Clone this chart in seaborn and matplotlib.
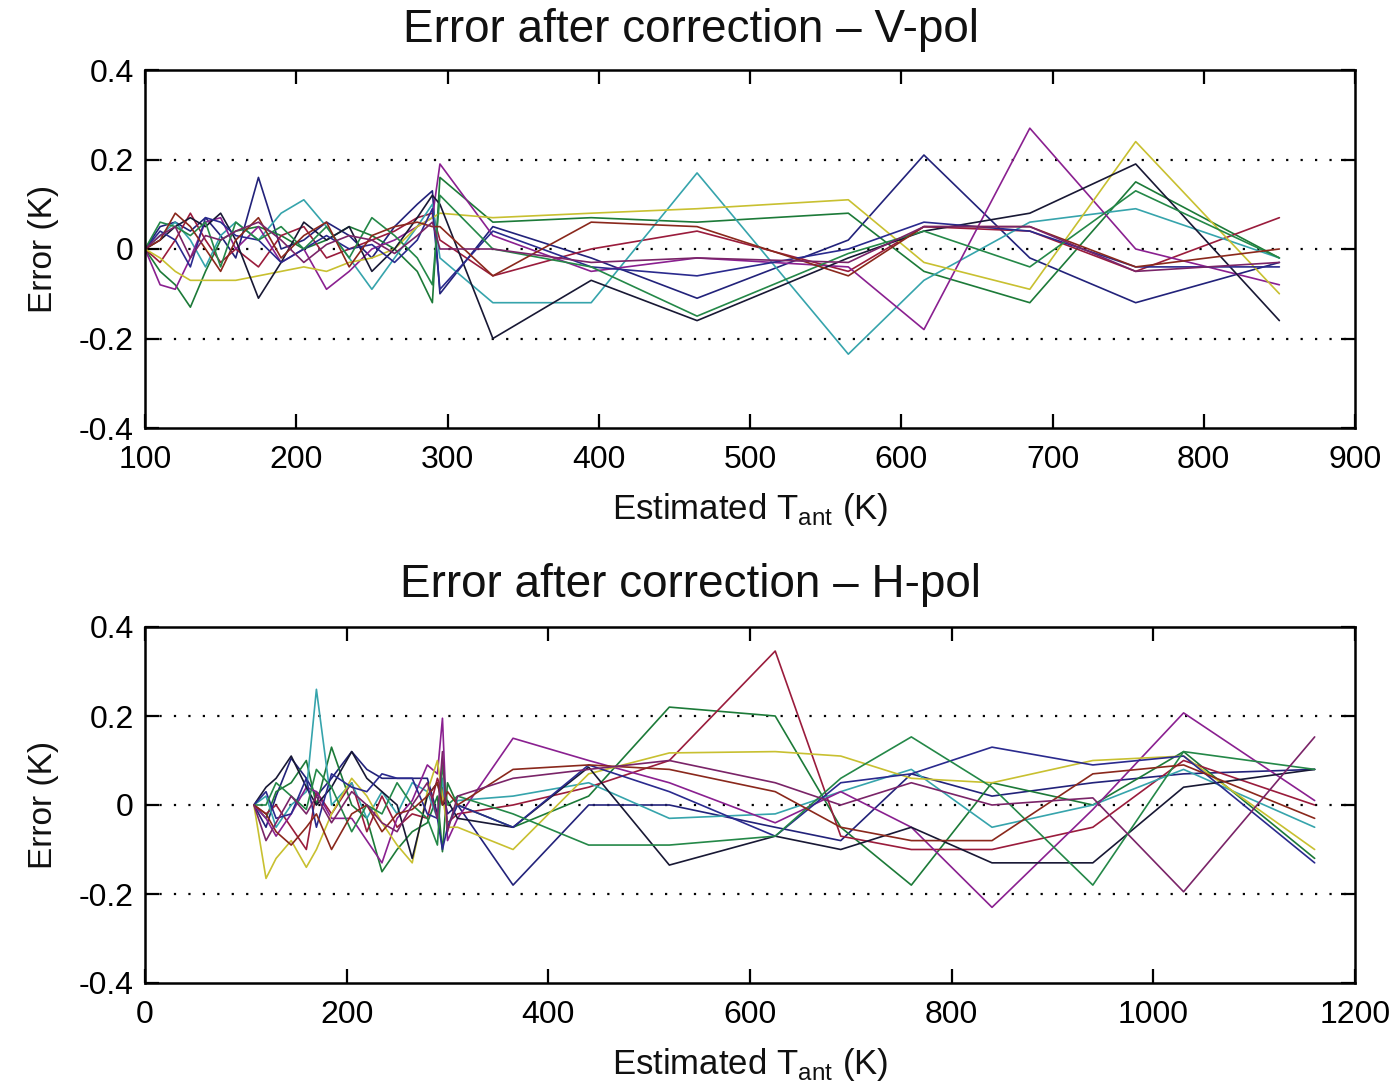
import numpy as np
import pandas as pd
import matplotlib
matplotlib.use("Agg")
import matplotlib.pyplot as plt
import seaborn as sns

# ---------------- data ----------------
# V-pol panel
x_v = [100, 110, 120, 130, 140, 150, 160, 175, 190, 205, 220, 235, 250, 265, 280, 290, 295,
       330, 395, 465, 565, 615, 685, 755, 850]
v_navy = [0, 0.05, 0.06, 0.04, 0.07, 0.03, -0.02, 0.16, 0.0, 0.02, 0.06, 0.03, -0.02, 0.05, 0.1, 0.13, -0.1,
          0.05, -0.02, -0.11, 0.02, 0.21, -0.02, -0.12, -0.03]
v_green = [0, -0.05, -0.08, -0.13, -0.05, 0.02, 0.04, 0.05, 0.03, 0.0, 0.02, 0.05, 0.03, 0.0, -0.05, -0.12, 0.16,
           0.06, 0.07, 0.06, 0.08, -0.05, -0.12, 0.15, -0.02]
v_red = [0, -0.03, 0.02, 0.08, 0.02, -0.03, 0.0, -0.04, 0.03, 0.05, -0.02, 0.0, 0.02, 0.04, 0.07, 0.08, 0.02,
         -0.06, 0.0, 0.04, -0.05, 0.05, 0.04, -0.05, 0.07]
v_cyan = [0, 0.03, 0.06, 0.02, -0.04, 0.03, 0.06, 0.02, 0.08, 0.11, 0.05, -0.02, -0.09, -0.02, 0.05, 0.1, -0.02,
          -0.12, -0.12, 0.17, -0.235, -0.07, 0.06, 0.09, -0.02]
v_magenta = [0, -0.08, -0.09, -0.02, 0.06, 0.07, 0.0, 0.05, -0.03, 0.0, -0.09, -0.05, 0.0, 0.02, 0.05, 0.07, 0.19,
             0.03, -0.05, -0.02, -0.04, -0.18, 0.27, 0.0, -0.08]
v_yellow = [0, -0.02, -0.05, -0.07, -0.07, -0.07, -0.07, -0.06, -0.05, -0.04, -0.05, -0.03, -0.02, 0.0, 0.05, 0.07, 0.08,
            0.07, 0.08, 0.09, 0.11, -0.03, -0.09, 0.24, -0.1]
v_black = [0, 0.02, 0.05, 0.07, 0.05, 0.08, 0.02, -0.11, -0.03, 0.06, 0.02, 0.05, -0.05, 0.0, 0.07, 0.12, 0.1,
           -0.2, -0.07, -0.16, -0.02, 0.04, 0.08, 0.19, -0.16]
v_navy2 = [0, 0.04, 0.02, -0.04, 0.07, 0.06, 0.03, 0.02, -0.03, 0.0, 0.03, 0.0, 0.01, -0.03, 0.02, 0.09, -0.09,
           0.04, -0.04, -0.06, 0.0, 0.06, 0.04, -0.04, -0.04]
v_green2 = [0, 0.06, 0.05, 0.03, 0.06, -0.04, 0.06, 0.02, 0.05, 0.0, 0.05, -0.02, 0.07, 0.03, -0.02, -0.08, 0.12,
            0.0, -0.04, -0.15, -0.01, 0.04, -0.04, 0.13, -0.02]
v_red2 = [0, 0.02, 0.08, 0.05, 0.0, -0.05, 0.02, 0.07, -0.02, 0.03, 0.06, -0.04, 0.03, 0.05, 0.06, 0.05, 0.05,
          -0.06, 0.06, 0.05, -0.06, 0.05, 0.05, -0.04, 0.0]
v_magenta2 = [0, 0.03, 0.05, -0.02, 0.03, 0.02, 0.04, 0.06, 0.02, -0.03, 0.01, 0.03, 0.02, -0.01, 0.03, 0.06, 0.0,
              0.0, -0.03, -0.02, -0.03, 0.05, 0.05, -0.05, -0.03]

# H-pol panel
x_h = [108, 120, 130, 145, 160, 170, 185, 205, 220, 235, 250, 265, 280, 290, 295, 300, 310,
       365, 440, 520, 625, 690, 760, 840, 940, 1030, 1160]
h_navy = [0, -0.05, 0.02, 0.105, 0.06, 0.02, 0.06, 0.12, 0.08, 0.06, 0.06, 0.06, 0.06, -0.02, 0.04, -0.02, 0.0,
          -0.18, 0.0, 0.0, -0.05, -0.08, 0.07, 0.02, 0.05, 0.07, 0.08]
h_green = [0, -0.03, 0.03, 0.05, 0.1, 0.0, 0.13, 0.0, -0.03, -0.15, -0.1, -0.06, -0.04, 0.02, -0.105, 0.05, 0.0,
           -0.05, 0.02, 0.22, 0.2, -0.05, -0.18, 0.05, 0.0, 0.12, -0.12]
h_red = [0, -0.02, 0.0, -0.05, -0.1, 0.03, -0.02, 0.05, -0.06, 0.02, -0.05, -0.02, -0.03, 0.06, 0.03, -0.04, -0.02,
         0.0, 0.04, 0.1, 0.346, -0.07, -0.1, -0.1, -0.05, 0.1, 0.0]
h_cyan = [0, 0.02, -0.05, 0.0, 0.03, 0.26, 0.0, 0.05, -0.03, 0.03, -0.02, 0.05, 0.03, -0.03, 0.06, -0.05, 0.01,
          0.02, 0.05, -0.03, -0.02, 0.03, 0.08, -0.05, 0.0, 0.08, -0.05]
h_magenta = [0, -0.03, -0.07, -0.02, 0.04, 0.03, -0.03, -0.03, -0.08, -0.13, -0.03, 0.01, 0.09, 0.07, 0.195, -0.08, -0.03,
             0.15, 0.1, 0.05, -0.04, 0.03, -0.05, -0.23, -0.01, 0.207, 0.01]
h_yellow = [0, -0.165, -0.12, -0.08, -0.14, -0.1, -0.02, 0.06, 0.02, -0.04, -0.09, -0.13, 0.03, 0.1, 0.02, -0.05, -0.05,
            -0.1, 0.07, 0.117, 0.12, 0.11, 0.06, 0.05, 0.1, 0.11, -0.1]
h_black = [0, 0.04, 0.06, 0.11, 0.04, 0.0, 0.04, 0.12, 0.06, 0.03, 0.0, -0.12, 0.02, 0.05, 0.0, 0.01, -0.03,
           -0.05, 0.085, -0.135, -0.07, -0.1, -0.05, -0.13, -0.13, 0.04, 0.08]
h_navy2 = [0, 0.03, -0.03, -0.02, 0.06, -0.05, 0.07, 0.04, 0.03, 0.07, 0.06, 0.06, -0.02, -0.03, -0.1, -0.05, 0.0,
           -0.05, 0.09, 0.03, -0.07, 0.05, 0.07, 0.13, 0.09, 0.11, -0.13]
h_green2 = [0, 0.0, 0.05, 0.02, -0.01, 0.08, 0.04, -0.06, 0.0, -0.02, 0.05, 0.0, -0.03, -0.09, 0.09, 0.0, 0.02,
            -0.02, -0.09, -0.09, -0.07, 0.06, 0.153, 0.04, -0.18, 0.12, 0.08]
h_red2 = [0, -0.02, -0.06, -0.09, -0.05, -0.02, -0.1, -0.02, 0.0, -0.06, -0.02, -0.01, 0.02, 0.05, 0.0, 0.03, 0.0,
          0.08, 0.09, 0.08, 0.03, -0.05, -0.08, -0.08, 0.07, 0.09, -0.03]
h_brown = [0, -0.08, -0.04, 0.02, -0.02, 0.02, -0.04, 0.03, 0.0, -0.04, -0.06, 0.0, 0.05, -0.03, 0.12, -0.06, 0.02,
           0.06, 0.08, 0.1, 0.05, 0.0, 0.05, 0.0, 0.016, -0.195, 0.153]

titles = ["Error after correction \u2013 V-pol", "Error after correction \u2013 H-pol"]
xlabel = "Estimated T$_{\\mathregular{ant}}$ (K)"
ylabel = "Error (K)"
xticks_v = [100, 200, 300, 400, 500, 600, 700, 800, 900]
xticks_h = [0, 200, 400, 600, 800, 1000, 1200]
yticks = [-0.4, -0.2, 0, 0.2, 0.4]
ytick_labels = ["-0.4", "-0.2", "0", "0.2", "0.4"]

colors = ["#22227a", "#1c7a38", "#9a1c3c", "#36a4ac", "#8a2090", "#c8c030",
          "#181834", "#2a2a8e", "#248848", "#8a281c", "#7a2468"]

v_series = [v_navy, v_green, v_red, v_cyan, v_magenta, v_yellow, v_black,
            v_navy2, v_green2, v_red2, v_magenta2]
h_series = [h_navy, h_green, h_red, h_cyan, h_magenta, h_yellow, h_black,
            h_navy2, h_green2, h_red2, h_brown]


def to_long(xs, series):
    rows = []
    for i, ys in enumerate(series):
        for x, y in zip(xs, ys):
            rows.append({"x": x, "y": y, "s": f"s{i}"})
    return pd.DataFrame(rows)


df_v = to_long(x_v, v_series)
df_h = to_long(x_h, h_series)

# ---------------- style ----------------
sns.set_theme(style="white")
plt.rcParams["font.family"] = ["Liberation Sans", "DejaVu Sans"]
plt.rcParams["mathtext.fontset"] = "custom"
plt.rcParams["mathtext.rm"] = "Liberation Sans"

fig = plt.figure(figsize=(13.89, 10.91), dpi=100)
ax1 = fig.add_axes([145 / 1389, 1 - 428 / 1091, 1210 / 1389, 358 / 1091])
ax2 = fig.add_axes([145 / 1389, 1 - 983 / 1091, 1210 / 1389, 356 / 1091])

panels = [(ax1, df_v, (100, 900), xticks_v, titles[0], 30),
          (ax2, df_h, (0, 1200), xticks_h, titles[1], 585)]

for ax, df, xlim, xt, title, ty in panels:
    sns.lineplot(data=df, x="x", y="y", hue="s", palette=colors, estimator=None,
                 sort=False, legend=False, linewidth=1.2, ax=ax)
    ax.set_xlim(*xlim)
    ax.set_ylim(-0.4, 0.4)
    for g in [-0.2, 0, 0.2]:
        ax.axhline(g, color="black", linestyle=(0, (1, 5.5)), linewidth=1.6, zorder=0.5)
    ax.set_xticks(xt)
    ax.set_xticklabels([str(t) for t in xt], fontsize=23)
    ax.set_yticks(yticks)
    ax.set_yticklabels(ytick_labels, fontsize=23)
    ax.tick_params(direction="in", length=10, width=1.6, top=True, right=True,
                   bottom=True, left=True, colors="black")
    ax.tick_params(axis="x", pad=12)
    ax.tick_params(axis="y", pad=8)
    for sp in ax.spines.values():
        sp.set_visible(True)
        sp.set_color("black")
        sp.set_linewidth(1.8)
    ax.set_xlabel(xlabel, fontsize=25, labelpad=12, color="#111111")
    ax.set_ylabel(ylabel, fontsize=24, labelpad=14, color="#111111")
    ax.grid(False)
    ax.set_facecolor("white")
    fig.text(691 / 1389, 1 - ty / 1091, title, fontsize=33, ha="center", va="center",
             color="#111111")

fig.savefig("out.png", dpi=100, facecolor="white")
